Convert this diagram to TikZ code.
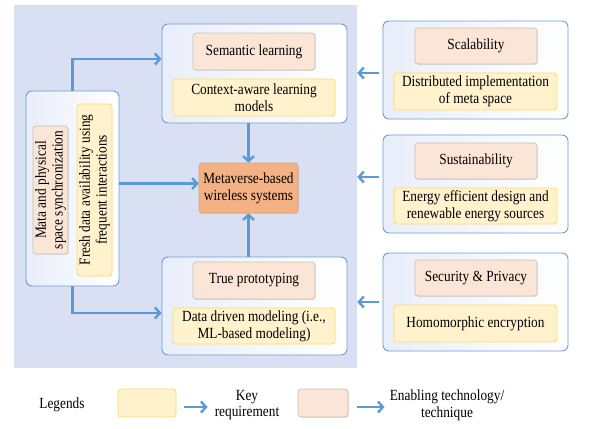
\documentclass[tikz,border=0pt]{standalone}
\usepackage{fontspec}
\setmainfont{Liberation Serif}[FakeStretch=0.86]
\usetikzlibrary{arrows.meta,shadows}
\definecolor{bgblue}{RGB}{217,224,243}
\definecolor{lineblue}{RGB}{91,155,213}
\definecolor{framblue}{RGB}{110,157,210}
\definecolor{peach}{RGB}{251,229,214}
\definecolor{peachdraw}{RGB}{200,192,188}
\definecolor{yellowf}{RGB}{255,242,204}
\definecolor{yellowd}{RGB}{255,217,102}
\definecolor{orangef}{RGB}{244,177,131}
\definecolor{oranged}{RGB}{230,160,115}
\definecolor{shadeblue}{RGB}{232,238,250}
\begin{document}
\begin{tikzpicture}[x=1pt,y=-1pt,
  every node/.style={font=\fontsize{15.5}{16.7}\selectfont, inner sep=1pt, align=center},
  frame/.style={draw=framblue, line width=0.9pt, rounded corners=6pt, left color=shadeblue, right color=white},
  tech/.style={draw=peachdraw, fill=peach, line width=0.7pt, rounded corners=3pt,
    drop shadow={opacity=0.2, shadow xshift=0.8pt, shadow yshift=-0.8pt}},
  req/.style={draw=yellowd, fill=yellowf, line width=0.8pt, rounded corners=3pt},
  core/.style={draw=oranged, fill=orangef, line width=0.6pt, rounded corners=3pt,
    drop shadow={opacity=0.2, shadow xshift=0.8pt, shadow yshift=-0.8pt}},
  arr/.style={draw=lineblue, line width=2.4pt, -{Straight Barb[length=5pt,width=11pt]}}
]
\useasboundingbox (0,0) rectangle (590,429);
% background
\node[fill=bgblue, minimum width=343pt, minimum height=363pt, inner sep=0pt] (bg) at (185.5,186.5) {};

% central
\node[frame, minimum width=185pt, minimum height=99pt] (semc) at (254.5,73.5) {};
\node[tech, minimum width=122pt, minimum height=37pt] (sem) at (254,51.5) {Semantic learning};
\node[req, minimum width=162pt, minimum height=37pt] (ctx) at (254,97.5) {Context-aware learning\\models};

\node[core, minimum width=99pt, minimum height=50pt] (meta) at (248.5,188) {Metaverse-based\\wireless systems};

\node[frame, minimum width=185pt, minimum height=98pt] (botc) at (254.5,306) {};
\node[tech, minimum width=122pt, minimum height=37pt] (true) at (254,280.5) {True prototyping};
\node[req, minimum width=162pt, minimum height=36pt] (data) at (254,326) {Data driven modeling (i.e.,\\ML-based modeling)};

% left
\node[frame, minimum width=93pt, minimum height=195pt] (leftc) at (72.5,188.5) {};
\node[tech, rotate=90, minimum width=128pt, minimum height=35pt] (mata) at (50.5,190) {Mata and physical\\space synchronization};
\node[req, rotate=90, minimum width=172pt, minimum height=35pt] (fresh) at (94.5,190) {Fresh data availability using\\frequent interactions};

% right
\node[frame, minimum width=185pt, minimum height=98pt] (r1c) at (475.5,70) {};
\node[tech, minimum width=122pt, minimum height=36pt] (scal) at (476,46) {Scalability};
\node[req, minimum width=163pt, minimum height=37pt] (dist) at (475.5,91.5) {Distributed implementation\\of meta space};

\node[frame, minimum width=185pt, minimum height=98pt] (r2c) at (475.5,184) {};
\node[tech, minimum width=122pt, minimum height=36pt] (sust) at (476,161) {Sustainability};
\node[req, minimum width=163pt, minimum height=36pt] (ener) at (475.5,206) {Energy efficient design and\\renewable energy sources};

\node[frame, minimum width=185pt, minimum height=98pt] (r3c) at (475.5,302) {};
\node[tech, minimum width=122pt, minimum height=36pt] (secu) at (476,278) {Security \& Privacy};
\node[req, minimum width=163pt, minimum height=37pt] (homo) at (475.5,323.5) {Homomorphic encryption};

% arrows
\draw[arr] (leftc.north) |- ([yshift=14.5pt]semc.west);
\draw[arr] (leftc.south) |- ([yshift=-7pt]botc.west);
\coordinate (lm) at ([yshift=5pt]leftc.east);
\draw[arr] (lm) -- (lm -| meta.west);
\draw[arr] (meta.north |- semc.south) -- (meta.north);
\draw[arr] (meta.south |- botc.north) -- (meta.south);

\coordinate (a1) at ([xshift=-4pt,yshift=-3pt]r1c.west);
\coordinate (a2) at ([xshift=-4pt,yshift=7pt]r2c.west);
\coordinate (a3) at ([xshift=-4pt]r3c.west);
\draw[arr] (a1) -- (a1 -| bg.east);
\draw[arr] (a2) -- (a2 -| bg.east);
\draw[arr] (a3) -- (a3 -| bg.east);

% legend
\node (leg) at (62,405) {Legends};
\node[req, minimum width=58pt, minimum height=28pt] (ly) at (147,403) {};
\node (keyt) at (247,405) {Key\\requirement};
\node[tech, minimum width=50pt, minimum height=28pt] (lp) at (323,403) {};
\node (ent) at (447,405) {Enabling technology/\\technique};
\draw[arr] ([xshift=8pt,yshift=-4pt]ly.east) -- ([xshift=-6pt]keyt.west |- 0,407);
\draw[arr] ([xshift=9pt,yshift=-4pt]lp.east) -- ([xshift=-4pt]ent.west |- 0,407);
\end{tikzpicture}
\end{document}
